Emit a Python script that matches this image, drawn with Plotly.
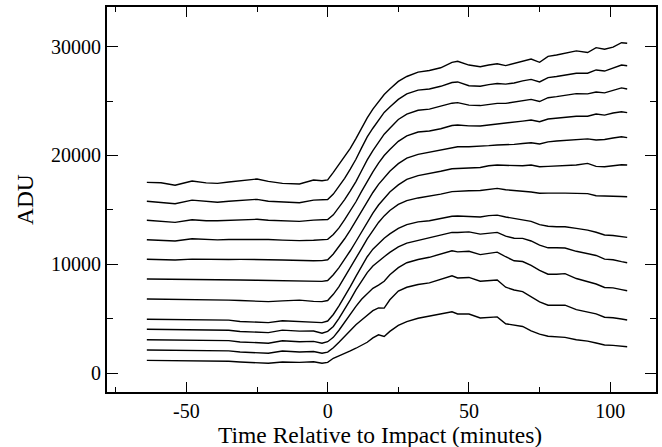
import plotly.graph_objects as go

# Time grid (minutes relative to impact)
TIME_PRE = [-64, -59, -54, -48, -43, -39, -35, -31, -25, -21, -16, -10, -5, -2, 0]
TIME_RISE = [2, 4, 6, 8, 10, 12, 14, 16, 18, 20, 22, 25, 28, 32, 36]
TIME_POST = [40, 44, 46, 50, 54, 57, 60, 63, 66, 69, 72, 75, 78, 81, 84, 88, 92, 95, 98, 101, 104, 106]

C1_pre = [17530, 17500, 17260, 17650, 17480, 17440, 17560, 17650, 17840, 17620, 17440, 17380, 17740, 17680, 17760]
C1_rise = [18450, 19150, 19950, 20650, 21550, 22500, 23450, 24250, 24950, 25600, 26100, 26800, 27250, 27650, 27800]
C1_post = [28050, 28550, 28650, 28300, 28150, 28300, 28420, 28250, 28450, 28700, 28850, 28550, 29100, 29220, 29380, 29600, 29450, 29900, 29750, 29950, 30350, 30300]

C2_pre = [15790, 15700, 15570, 15900, 15760, 15700, 15800, 15880, 15970, 15800, 15750, 15660, 15900, 15900, 15950]
C2_rise = [16450, 17150, 17900, 18750, 19650, 20700, 21700, 22500, 23250, 23950, 24450, 25150, 25650, 26000, 26100]
C2_post = [26350, 26700, 26750, 26400, 26350, 26500, 26600, 26550, 26650, 26850, 26980, 26750, 27150, 27250, 27400, 27550, 27550, 27850, 27750, 28000, 28300, 28240]

C3_pre = [14045, 13980, 13860, 14100, 14000, 14000, 14050, 14100, 14140, 14050, 14000, 13950, 14060, 14070, 14120]
C3_rise = [14550, 15200, 15950, 16750, 17600, 18600, 19600, 20450, 21250, 21950, 22500, 23300, 23800, 24150, 24250]
C3_post = [24550, 24800, 24850, 24620, 24580, 24700, 24780, 24780, 24900, 25050, 25150, 24950, 25300, 25400, 25500, 25680, 25650, 25820, 25750, 25950, 26200, 26100]

C4_pre = [12265, 12230, 12145, 12350, 12280, 12250, 12280, 12300, 12330, 12280, 12230, 12180, 12220, 12240, 12300]
C4_rise = [12750, 13350, 14100, 14900, 15750, 16700, 17650, 18500, 19300, 20000, 20550, 21300, 21800, 22150, 22250]
C4_post = [22450, 22750, 22800, 22720, 22700, 22800, 22880, 22950, 23020, 23150, 23250, 23100, 23350, 23420, 23480, 23600, 23600, 23800, 23700, 23900, 24010, 23930]

C5_pre = [10465, 10440, 10400, 10480, 10450, 10440, 10450, 10460, 10470, 10430, 10400, 10340, 10330, 10340, 10420]
C5_rise = [10950, 11600, 12350, 13150, 14000, 14900, 15800, 16600, 17350, 18000, 18550, 19250, 19750, 20100, 20300]
C5_post = [20500, 20750, 20800, 20800, 20820, 20900, 20960, 20980, 21020, 21100, 21160, 21050, 21250, 21330, 21380, 21470, 21520, 21420, 21460, 21600, 21720, 21640]

C6_pre = [8657, 8650, 8630, 8640, 8620, 8600, 8580, 8560, 8540, 8520, 8500, 8450, 8440, 8440, 8520]
C6_rise = [9050, 9700, 10450, 11250, 12100, 13000, 13900, 14700, 15450, 16100, 16650, 17300, 17800, 18150, 18330]
C6_post = [18550, 18780, 18820, 18850, 18900, 19050, 19120, 19080, 19050, 19050, 19120, 18970, 19000, 19020, 19060, 19120, 19270, 19000, 18970, 19080, 19150, 19120]

C7_pre = [6821, 6810, 6800, 6810, 6780, 6760, 6720, 6680, 6620, 6580, 6650, 6720, 6600, 6580, 6680]
C7_rise = [7250, 7950, 8800, 9650, 10550, 11450, 12350, 13150, 13850, 14450, 14950, 15500, 15850, 16100, 16250]
C7_post = [16450, 16680, 16720, 16760, 16780, 16900, 16980, 16850, 16760, 16720, 16650, 16530, 16540, 16560, 16540, 16520, 16500, 16300, 16250, 16260, 16230, 16212]

C8_pre = [4960, 4950, 4940, 4930, 4920, 4940, 4880, 4760, 4680, 4650, 4820, 4740, 4740, 4650, 4800]
C8_rise = [5400, 6200, 7050, 7950, 8900, 9850, 10700, 11400, 11950, 12400, 12800, 13300, 13650, 13900, 14000]
C8_post = [14200, 14420, 14440, 14400, 14350, 14480, 14520, 14350, 14220, 14080, 13950, 13650, 13500, 13460, 13460, 13300, 13150, 12950, 12700, 12650, 12520, 12480]

C9_pre = [4040, 4030, 4020, 4000, 3990, 4020, 3950, 3840, 3760, 3730, 3960, 3870, 3880, 3680, 3850]
C9_rise = [4300, 5050, 5850, 6750, 7650, 8500, 9250, 9850, 10300, 10700, 11100, 11600, 11950, 12200, 12400]
C9_post = [12650, 12940, 12930, 12980, 12780, 12880, 12940, 12600, 12400, 12390, 12150, 11760, 11520, 11520, 11500, 11200, 11000, 10820, 10480, 10420, 10250, 10150]

C10_pre = [3084, 3070, 3060, 3060, 3050, 3070, 3000, 2880, 2800, 2760, 2990, 2900, 2930, 2760, 2900]
C10_rise = [3300, 3950, 4700, 5450, 6150, 6800, 7350, 7800, 8100, 8450, 9050, 9700, 10150, 10450, 10650]
C10_post = [10950, 11250, 11150, 11200, 10900, 11000, 11120, 10700, 10330, 10260, 9900, 9450, 9100, 9100, 9150, 8700, 8450, 8200, 7880, 7840, 7680, 7580]

C11_pre = [2139, 2130, 2120, 2120, 2110, 2130, 2060, 1950, 1870, 1836, 2047, 1960, 2000, 1836, 1950]
C11_rise = [2350, 2850, 3400, 3950, 4450, 4900, 5300, 5750, 6000, 5980, 6750, 7550, 7900, 8150, 8300]
C11_post = [8600, 8950, 8750, 8800, 8450, 8500, 8560, 7900, 7650, 7500, 7050, 6550, 6250, 6280, 6250, 5850, 5650, 5450, 5150, 5100, 4980, 4890]

C12_pre = [1190, 1180, 1170, 1160, 1150, 1150, 1100, 1040, 950, 920, 1040, 1000, 1060, 930, 1000]
C12_rise = [1380, 1600, 1800, 2050, 2300, 2550, 2850, 3250, 3530, 3380, 3850, 4400, 4750, 5050, 5250]
C12_post = [5400, 5650, 5450, 5440, 5080, 5150, 5180, 4550, 4400, 4300, 3900, 3600, 3400, 3380, 3300, 3080, 2950, 2780, 2600, 2560, 2500, 2440]

X_TICKS = [-50, 0, 50, 100]
X_TICK_TEXT = ["-50", "0", "50", "100"]
X_MINOR = [-75, -25, 25, 75]
Y_TICKS = [0, 10000, 20000, 30000]
Y_TICK_TEXT = ["0", "10000", "20000", "30000"]
Y_MINOR = [5000, 15000, 25000]
X_TITLE = "Time Relative to Impact (minutes)"
Y_TITLE = "ADU"

TIME = TIME_PRE + TIME_RISE + TIME_POST
series = [
    C1_pre + C1_rise + C1_post,
    C2_pre + C2_rise + C2_post,
    C3_pre + C3_rise + C3_post,
    C4_pre + C4_rise + C4_post,
    C5_pre + C5_rise + C5_post,
    C6_pre + C6_rise + C6_post,
    C7_pre + C7_rise + C7_post,
    C8_pre + C8_rise + C8_post,
    C9_pre + C9_rise + C9_post,
    C10_pre + C10_rise + C10_post,
    C11_pre + C11_rise + C11_post,
    C12_pre + C12_rise + C12_post,
]

FONT = "Liberation Serif"
fig = go.Figure()
for vals in series:
    fig.add_trace(go.Scatter(x=TIME, y=vals, mode="lines",
                             line=dict(color="black", width=1.4),
                             showlegend=False, hoverinfo="skip"))

axis_common = dict(showline=True, linecolor="black", linewidth=2, mirror="allticks",
                   ticks="inside", tickcolor="black", tickwidth=1.3,
                   showgrid=False, zeroline=False, automargin=False,
                   tickfont=dict(family=FONT, size=20, color="black"))

fig.update_xaxes(range=[-78.1, 116.2], tickmode="array", tickvals=X_TICKS, ticktext=X_TICK_TEXT,
                 ticklen=10,
                 minor=dict(tickmode="array", tickvals=X_MINOR, ticks="inside", ticklen=5,
                            tickcolor="black", tickwidth=1.3),
                 **axis_common)
fig.update_yaxes(range=[-1717, 33630], tickmode="array", tickvals=Y_TICKS, ticktext=Y_TICK_TEXT,
                 ticklen=11,
                 minor=dict(tickmode="array", tickvals=Y_MINOR, ticks="inside", ticklen=6,
                            tickcolor="black", tickwidth=1.3),
                 **axis_common)

fig.add_annotation(text=X_TITLE, xref="paper", yref="paper", x=0.497, y=-0.111,
                   xanchor="center", yanchor="middle", showarrow=False,
                   font=dict(family=FONT, size=23.5, color="black"))
fig.add_annotation(text=Y_TITLE, xref="paper", yref="paper", x=-0.149, y=0.499,
                   xanchor="center", yanchor="middle", showarrow=False, textangle=-90,
                   font=dict(family=FONT, size=23.5, color="black"))

fig.update_layout(width=662, height=447, margin=dict(l=107, r=6, t=7, b=55),
                  paper_bgcolor="white", plot_bgcolor="white",
                  font=dict(family=FONT, color="black"))

fig.write_html("out.html", config={"displayModeBar": False},
               post_script="document.body.style.margin='0px';document.body.style.overflow='hidden';")
